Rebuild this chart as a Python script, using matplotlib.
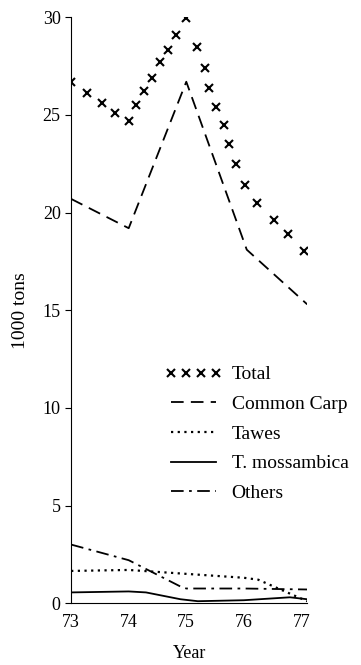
import matplotlib
matplotlib.use('Agg')
import matplotlib.pyplot as plt

plt.rcParams['font.family'] = ['Liberation Serif', 'DejaVu Serif']

# Total (drawn as a row of crosses)
total_x = [73.0, 73.28, 73.54, 73.77, 74.0, 74.12, 74.27, 74.41, 74.55, 74.69, 74.83, 75.0,
           75.19, 75.33, 75.4, 75.52, 75.65, 75.74, 75.86, 76.02, 76.23, 76.53, 76.76, 77.05]
total_y = [26.7, 26.1, 25.6, 25.1, 24.7, 25.5, 26.2, 26.9, 27.7, 28.3, 29.1, 29.95,
           28.5, 27.4, 26.4, 25.4, 24.5, 23.5, 22.5, 21.4, 20.5, 19.6, 18.9, 18.05]

# Common Carp
carp_x = [73.0, 74.0, 75.0, 76.05, 77.1]
carp_y = [20.7, 19.2, 26.7, 18.1, 15.3]

# Tawes
tawes_x = [73.0, 74.0, 75.0, 76.0, 76.25, 77.1]
tawes_y = [1.65, 1.7, 1.5, 1.3, 1.2, 0.1]

# T. mossambica
moss_x = [73.0, 74.0, 74.3, 74.9, 75.2, 76.0, 76.8, 77.1]
moss_y = [0.55, 0.6, 0.55, 0.2, 0.1, 0.15, 0.3, 0.2]

# Others
others_x = [73.0, 74.0, 74.9, 75.0, 76.0, 77.1]
others_y = [3.0, 2.2, 0.85, 0.75, 0.75, 0.7]

year_ticks = [73, 74, 75, 76, 77]
ton_ticks = [0, 5, 10, 15, 20, 25, 30]

fig = plt.figure(figsize=(3.61, 6.65), dpi=100)
ax = fig.add_axes([0.197, 0.093, 0.654, 0.881])

ax.plot(total_x, total_y, linestyle='none', marker='x', color='black',
        markersize=5.5, markeredgewidth=1.5, label='Total')
ax.plot(carp_x, carp_y, color='black', lw=1.3, dashes=(7, 4), label='Common Carp')
ax.plot(tawes_x, tawes_y, color='black', lw=1.6, linestyle=(0, (1, 2)), label='Tawes')
ax.plot(moss_x, moss_y, color='black', lw=1.3, label='T. mossambica')
ax.plot(others_x, others_y, color='black', lw=1.3, linestyle=(0, (7, 3, 1.5, 3)), label='Others')

ax.set_xlim(73, 77.1)
ax.set_ylim(0, 30)
ax.set_xticks(year_ticks)
ax.set_yticks(ton_ticks)
ax.tick_params(axis='x', length=0, labelsize=13, pad=8)
ax.tick_params(axis='y', length=4, labelsize=13, direction='out')
ax.spines['top'].set_visible(False)
ax.spines['right'].set_visible(False)

ax.set_xlabel('Year', fontsize=13, labelpad=10)
ax.set_ylabel('1000 tons', fontsize=14, labelpad=10)

leg = ax.legend(loc='upper left', bbox_to_anchor=(0.4, 0.405), frameon=False,
                fontsize=14, numpoints=4, handlelength=2.9, labelspacing=0.62,
                handletextpad=0.5, borderaxespad=0, borderpad=0)

fig.savefig('out.png', dpi=100)
